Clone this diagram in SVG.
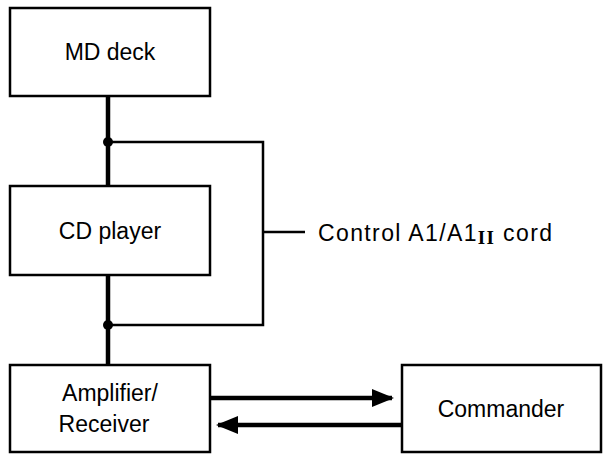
<svg xmlns="http://www.w3.org/2000/svg" width="606" height="462" viewBox="0 0 606 462">
<style>
.box{fill:#fff;stroke:#000;stroke-width:2.5}
.t{font-family:"Liberation Sans",Arial,sans-serif;font-size:23px;fill:#000;text-anchor:middle}
.thick{stroke:#000;stroke-width:4.5;fill:none}
.thin{stroke:#000;stroke-width:2.5;fill:none}
</style>
<defs>
<marker id="ah" viewBox="0 0 10 10" refX="9" refY="5" markerWidth="5" markerHeight="5" markerUnits="strokeWidth" orient="auto"><path d="M0,1 L10,5 L0,9 Z" fill="#000"/></marker>
</defs>
<g id="connectors">
<line class="thick" x1="108" y1="96" x2="108" y2="186"/>
<line class="thick" x1="108" y1="275" x2="108" y2="365"/>
<polyline class="thin" points="108,142 263,142 263,325 108,325"/>
<line class="thin" x1="263" y1="232" x2="305" y2="232"/>
<circle cx="108" cy="142" r="5" fill="#000"/>
<circle cx="108" cy="325" r="5" fill="#000"/>
<line class="thick" x1="210" y1="398" x2="392" y2="398" marker-end="url(#ah)"/>
<line class="thick" x1="402" y1="425" x2="218" y2="425" marker-end="url(#ah)"/>
<text x="318" y="241" textLength="234" style="font-family:'Liberation Sans',Arial,sans-serif;font-size:23px">Control A1/A1<tspan font-family="'Liberation Serif',serif" font-weight="bold" font-size="19" dy="3">II</tspan><tspan dy="-3"> cord</tspan></text>
</g>
<g id="md"><rect class="box" x="10" y="8" width="200" height="88"/><text class="t" x="110" y="60">MD deck</text></g>
<g id="cd"><rect class="box" x="10" y="186" width="200" height="89"/><text class="t" x="110" y="239">CD player</text></g>
<g id="amp"><rect class="box" x="10" y="365" width="200" height="87"/><text class="t" x="110" y="401">Amplifier/</text><text class="t" x="104" y="432">Receiver</text></g>
<g id="cmd"><rect class="box" x="402" y="365" width="199" height="87"/><text class="t" x="501" y="417">Commander</text></g>
</svg>
